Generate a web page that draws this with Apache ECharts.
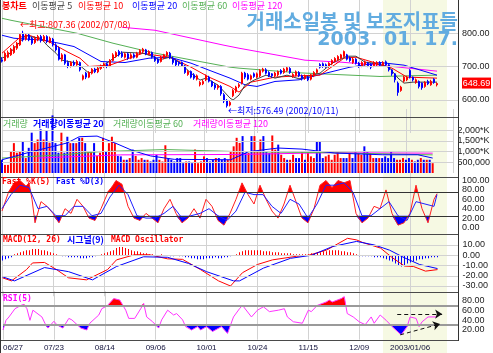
<!DOCTYPE html>
<html>
<head>
<meta charset="utf-8">
<script src="https://cdn.jsdelivr.net/npm/echarts@6/dist/echarts.min.js"></script>
<style>
html,body{margin:0;padding:0;background:#fff}
#main{width:493px;height:353px}
</style>
</head>
<body>
<div id="main"></div>
<script>
// 날짜 눈금 (17봉 간격)
var dateLabels = ['06/27','07/23','08/14','09/06','10/01','10/24','11/15','12/09','2003/01/06'];

// 일봉 [시가, 고가, 저가, 종가]
var ohlc = [
  [720,728,712,716],[718,745,715,740],[728,748,725,742],[735,756,732,752],[742,765,738,760],
  [755,774,750,770],[765,800,762,796],[800,807.36,775,780],[782,798,778,795],[795,798,776,780],
  [785,790,765,770],[772,790,768,785],[780,795,776,790],[790,795,772,778],[778,795,774,790],
  [790,794,770,775],[775,790,770,785],[782,786,760,765],[765,770,745,750],[755,760,718,722],
  [722,740,715,735],[735,738,705,710],[712,718,695,700],[700,716,697,712],[712,718,700,705],
  [705,720,702,715],[712,715,685,690],[662,676,658,672],[680,684,662,668],[668,686,665,682],
  [680,695,676,692],[692,696,680,684],[684,699,680,695],[694,706,690,702],[700,712,696,708],
  [708,712,695,700],[700,722,698,718],[718,740,715,735],[730,746,726,742],[745,750,730,735],
  [740,746,726,730],[728,742,724,738],[738,742,720,725],[725,740,722,735],[735,740,724,728],
  [728,744,725,740],[738,752,735,748],[745,756,740,752],[750,753,734,738],[738,749,734,745],
  [742,745,724,728],[728,732,714,718],[722,725,708,712],[715,732,712,728],[726,738,722,735],
  [735,746,730,742],[740,744,722,725],[725,730,706,712],[718,722,700,705],[712,716,702,708],
  [712,715,700,705],[702,705,678,682],[676,690,672,685],[685,688,664,668],[675,680,660,665],
  [662,676,658,672],[645,656,640,652],[648,660,644,655],[660,676,656,672],[668,672,652,656],
  [655,658,638,642],[645,650,630,636],[636,646,630,642],[640,644,612,618],[615,620,590,596],
  [598,602,576.49,582],[584,596,580,592],[612,632,608,628],[625,642,620,638],[640,650,635,645],
  [650,684,646,680],[680,684,662,668],[675,680,658,662],[662,676,658,672],[678,682,666,670],
  [668,682,664,678],[672,692,668,688],[686,696,682,692],[690,695,676,680],[682,686,668,672],
  [678,680,666,672],[672,684,668,680],[675,688,670,685],[688,692,676,680],[682,696,678,692],
  [688,700,684,696],[694,698,678,682],[670,680,666,676],[674,688,670,684],[682,686,668,672],
  [672,676,658,664],[664,676,660,672],[668,672,656,660],[662,678,658,675],[672,686,668,682],
  [682,694,678,690],[706,710,694,698],[708,712,696,700],[705,709,696,700],[700,713,696,710],
  [708,722,704,718],[715,728,712,724],[720,734,716,730],[725,738,722,735],[730,748,727,745],
  [735,738,718,722],[726,730,714,718],[712,726,708,722],[722,725,706,710],[710,714,696,700],
  [702,716,698,712],[706,718,702,714],[710,714,698,702],[706,710,692,698],[702,716,698,712],
  [705,716,700,712],[712,716,700,704],[704,716,700,712],[714,718,700,705],[705,708,685,690],
  [690,692,672,678],[678,680,652,660],[650,655,612,622],[628,642,624,638],[656,672,652,668],
  [660,672,656,668],[688,692,664,668],[668,670,655,660],[652,664,648,660],[655,658,634,640],
  [650,652,630,636],[640,656,636,652],[655,660,644,648],[645,660,642,655],[662,665,648,652],
  [645,652,640,648.69]
];

// 이동평균 (그림에서 읽은 꼭짓점 [봉번호, 값])
var ma5 = [[0,725],[2,734],[8,794],[9,790],[13,785],[15,764],[18,740],[20,719],[25,710],[29,680],[33,698],[40,743],[47,740],[51,728],[52,719],[56,728],[59,713],[63,680],[66,659],[68,665],[72,644],[76,605],[77,599],[79,614],[81,644],[84,659],[88,674],[91,665],[95,674],[99,663],[106,680],[110,710],[115,731],[118,731],[121,713],[124,710],[129,698],[132,665],[134,650],[137,653],[145,653]];
var ma10 = [[0,740],[6,788],[9,794],[16,773],[22,743],[26,725],[29,700],[36,704],[47,740],[51,734],[56,728],[63,698],[69,668],[76,640],[79,623],[83,653],[91,668],[99,672],[106,674],[114,725],[118,728],[124,712],[130,695],[135,668],[145,665]];
var ma20 = [[0,794],[4,785],[14,779],[19,770],[24,760],[29,735],[33,715],[41,712],[49,725],[56,728],[63,710],[69,689],[76,665],[81,645],[85,640],[91,655],[99,660],[116,698],[126,712],[134,704],[145,674]];
var ma60 = [[0,845],[3,839],[25,800],[37,770],[50,742],[76,698],[79,695],[99,681],[126,670],[145,674]];
var ma120 = [[40,818],[51,809],[74,764],[79,755],[101,719],[113,713],[126,704],[145,686]];

// 거래량 (천주)
var volume = [
  620,380,380,1000,1400,950,1000,1490,700,1180,
  1890,1400,1570,2050,1570,2000,1420,2700,1400,950,
  1890,950,1700,1400,1400,1400,1650,1650,1400,1000,
  1000,1400,800,950,1650,1000,1400,1700,1400,800,
  780,620,620,700,1100,800,620,700,620,620,
  540,620,850,620,540,1300,700,620,540,700,
  700,460,540,540,460,1100,460,540,780,700,
  540,620,700,700,620,700,620,1000,1250,1650,
  1410,1730,935,935,1730,1730,1015,1570,1730,1015,
  935,1760,1095,1330,855,700,620,620,855,700,
  700,1015,620,1015,780,700,1490,1490,700,780,
  855,620,855,1015,700,700,700,935,700,1015,
  935,855,1250,1015,935,700,700,700,700,780,
  700,1015,700,620,620,700,620,700,620,540,
  620,700,620,620,620,460
];
var volMa20 = [[0,620],[10,1000],[22,1410],[26,1700],[32,1730],[38,1410],[44,1050],[50,800],[58,640],[77,620],[83,1000],[93,1170],[101,1120],[112,935],[128,855],[140,855],[145,700]];
var volMa60 = [[0,700],[20,850],[33,1000],[55,1100],[80,1000],[110,950],[145,850]];
var volMa120 = [[12,700],[40,850],[80,870],[110,950],[145,930]];

// Fast %K(5), Fast %D(3)
var fastK = [[0,35],[2,72],[4,95],[6,100],[8,88],[9,95],[10,60],[11,10],[13,55],[15,45],[17,30],[19,10],[21,40],[23,30],[25,60],[27,45],[29,20],[31,15],[33,40],[35,70],[37,90],[38,100],[40,92],[42,45],[44,20],[46,15],[48,30],[50,20],[52,10],[54,40],[56,60],[58,30],[60,10],[62,20],[64,40],[66,20],[68,60],[70,45],[72,15],[74,5],[76,30],[78,60],[80,95],[82,70],[84,50],[86,90],[88,60],[90,35],[92,20],[94,50],[96,90],[98,55],[100,20],[102,10],[104,40],[106,90],[108,100],[110,85],[112,100],[114,95],[116,100],[118,30],[120,10],[122,20],[124,45],[126,40],[128,80],[130,30],[132,5],[134,10],[136,30],[138,90],[140,40],[142,10],[144,60],[145,72]];
var fastD = [[0,40],[3,70],[6,90],[9,85],[12,40],[15,45],[18,25],[21,25],[24,45],[27,45],[30,25],[33,30],[36,65],[39,90],[42,70],[45,25],[48,20],[51,20],[54,30],[57,45],[60,20],[63,25],[66,30],[69,40],[72,25],[75,15],[78,35],[81,75],[84,70],[87,70],[90,45],[93,30],[96,60],[99,50],[102,20],[105,50],[108,90],[111,90],[114,95],[117,75],[120,25],[123,25],[126,40],[129,55],[132,25],[135,15],[138,55],[141,50],[144,45],[145,70]];

// MACD(12,26), 시그널(9), Oscillator
var macd = [[0,-22],[3,-25],[8,-14],[10,-7.5],[14,-7],[18,-14],[22,-22],[28,-24],[35,-14],[38,-4.5],[44,0.5],[49,0.5],[55,-3.5],[60,-4],[66,-14],[72,-25],[76,-30],[80,-17],[85,-9],[90,-4.5],[98,-1],[102,0],[108,5],[115,16.5],[118,15],[120,12.5],[126,7],[130,-2.5],[134,-10.5],[137,-11],[141,-15.5],[145,-14]];
var signal = [[0,-21],[4,-25],[14,-12],[22,-16],[30,-24],[38,-11],[47,-1.5],[55,-2],[62,-8],[68,-16],[77,-25],[79,-25],[87,-12.5],[96,-3],[103,0],[110,8.5],[118,13.5],[124,10],[129,5],[134,-2.5],[139,-9],[145,-13]];
var osc = [
  -5,-4,-3,-2,
  1,2,3,4,5,5,6,6,6,5,5,4,
  3,2,1,0,-1,-1,-2,-2,-2,-2,-3,-3,-3,-2,-2,-1,
  0,1,2,3,4,5,7,8,8,7,6,5,4,4,3,2,2,1,1,
  0,0,1,0,0,-1,-1,0,-1,-1,-2,
  -2,-3,-3,-4,-4,-4,-3,-3,-3,-2,-3,-3,-2,-2,-1,0,1,
  3,4,5,5,5,5,5,5,4,4,4,3,3,3,2,2,2,2,1,1,1,1,1,1,2,2,3,3,4,4,5,5,5,5,4,4,3,3,2,1,
  -1,-1,-1,-1,-1,-2,-2,-2,-3,-4,-5,-6,-8,-10,-11,-10,-8,-7,-6,-5,-4,-4,-3,-3,-2,-2,-2
];

// RSI(5)
var rsi = [[0,20],[1,40],[2,47],[4,64],[6,71],[7,73],[8,64],[9,40],[10,61],[13,47],[14,34],[15,24],[17,38],[18,31],[20,24],[22,44],[23,41],[26,24],[28,20],[29,34],[32,51],[33,64],[35,71],[37,85],[39,82],[41,61],[42,44],[44,44],[46,64],[47,75],[48,47],[50,37],[52,24],[53,41],[55,61],[57,51],[58,54],[60,41],[61,27],[63,20],[65,27],[66,20],[68,27],[70,17],[73,27],[75,13],[77,47],[79,64],[80,71],[83,47],[85,61],[87,68],[89,58],[92,61],[94,64],[95,47],[97,37],[100,34],[102,61],[103,58],[105,71],[108,78],[109,82],[110,78],[113,85],[114,89],[115,54],[117,47],[119,37],[121,31],[123,47],[124,34],[126,51],[128,40],[130,27],[133,10],[135,27],[136,47],[138,44],[139,27],[140,37],[142,47],[145,47]];

var RED = '#FF0000', BLUE = '#0000FF', GREEN = '#55B055', PINK = '#FF00FF', GRAY5 = '#404040';
var FK = '"Noto Sans CJK KR"', FL = '"Liberation Sans"', FM = '"DejaVu Sans Mono"';
var NBAR = 152;

// 임계선 위/아래만 남겨서 채우기용 점 목록 생성
function clipTo(pts, lvl, above) {
  var out = [];
  for (var k = 0; k < pts.length; k++) {
    var p = pts[k];
    if (k > 0) {
      var q = pts[k - 1];
      if ((q[1] - lvl) * (p[1] - lvl) < 0) {
        var t = (lvl - q[1]) / (p[1] - q[1]);
        out.push([q[0] + t * (p[0] - q[0]), lvl]);
      }
    }
    out.push([p[0], above ? Math.max(p[1], lvl) : Math.min(p[1], lvl)]);
  }
  return out;
}

function xAx(g, showLabel) {
  return {
    type: 'value', gridIndex: g, min: 0, max: NBAR, interval: 17,
    axisLine: {show: false}, axisTick: {show: false},
    splitLine: {show: true, lineStyle: {color: '#D2D2D2', width: 1}},
    axisLabel: showLabel ? {
      show: true, fontSize: 8, color: '#10103a', fontFamily: FL, margin: 4,
      alignMinLabel: 'left', showMaxLabel: false,
      formatter: function (v) { return v % 17 === 0 ? (dateLabels[v / 17] || '') : ''; }
    } : {show: false}
  };
}

function yAx(g, min, max, interval, fmt) {
  return {
    type: 'value', gridIndex: g, position: 'right', min: min, max: max, interval: interval,
    axisLine: {show: false}, axisTick: {show: false}, splitLine: {show: false},
    axisLabel: {show: true, fontSize: 9, color: '#222', fontFamily: FL, margin: 4, formatter: fmt}
  };
}

function gridLines(vals, color, width) {
  return {
    silent: true, symbol: 'none', label: {show: false}, animation: false,
    lineStyle: {color: color, width: width || 1, type: 'solid'},
    data: vals.map(function (v) { return {yAxis: v}; })
  };
}

function lineS(g, data, color, z) {
  return {type: 'line', xAxisIndex: g, yAxisIndex: g, data: data, symbol: 'none',
    lineStyle: {color: color, width: 1}, z: z || 3, silent: true};
}

function fillS(g, data, lvl, above, color) {
  return {type: 'line', xAxisIndex: g, yAxisIndex: g, data: clipTo(data, lvl, above), symbol: 'none',
    lineStyle: {width: 0}, areaStyle: {color: color, opacity: 1, origin: lvl}, z: 2, silent: true};
}

var candleData = ohlc.map(function (r, i) { return [i, r[0], r[3], r[2], r[1]]; });
var volData = volume.map(function (v, i) {
  var up = ohlc[i][3] >= ohlc[i][0];
  return {value: [i, v], itemStyle: {color: up ? RED : BLUE}};
});
var oscData = osc.map(function (v, i) {
  return {value: [i, v], itemStyle: {color: v >= 0 ? RED : BLUE}};
});

var chart = echarts.init(document.getElementById('main'));

chart.setOption({
  animation: false,
  backgroundColor: '#FFFFFF',
  grid: [
    {left: 2, width: 456, top: 0, height: 133},
    {left: 2, width: 456, top: 109, height: 64},
    {left: 2, width: 456, top: 171.1, height: 65.8},
    {left: 2.5, width: 456, top: 224.5, height: 71.75},
    {left: 2, width: 456, top: 291.33, height: 48.33}
  ],
  xAxis: [xAx(0, false), xAx(1, false), xAx(2, false), xAx(3, false), xAx(4, true)],
  yAxis: [
    yAx(0, 500, 900, 100, function (v) { return v >= 600 && v <= 800 ? v.toFixed(2) : ''; }),
    yAx(1, 0, 3000, 500, function (v) {
      if (v === 500) return '500,000';
      return v >= 1000 && v <= 2000 ? (v / 1000).toFixed(3).replace('.', ',') + '*K' : '';
    }),
    yAx(2, -20, 120, 20, function (v) { return v >= 0 && v <= 100 ? v.toFixed(2) : ''; }),
    yAx(3, -40, 30, 10, function (v) { return v >= -30 && v <= 10 ? v.toFixed(2) : ''; }),
    yAx(4, 0, 100, 20, function (v) { return v >= 20 && v <= 80 ? v.toFixed(2) : ''; })
  ],
  series: [
    {
      type: 'candlestick', xAxisIndex: 0, yAxisIndex: 0, data: candleData,
      encode: {x: 0, y: [1, 2, 3, 4]}, barWidth: 2, clip: false, silent: true, z: 4,
      itemStyle: {color: RED, color0: BLUE, borderColor: RED, borderColor0: BLUE, borderWidth: 1},
      markLine: gridLines([600, 700, 800], '#D2D2D2')
    },
    lineS(0, ma120, PINK), lineS(0, ma60, GREEN), lineS(0, ma20, BLUE),
    lineS(0, ma10, RED), lineS(0, ma5, GRAY5),

    {
      type: 'bar', xAxisIndex: 1, yAxisIndex: 1, data: volData, barWidth: 2, clip: false, silent: true,
      markLine: gridLines([500, 1000, 1500, 2000], '#D2D2D2')
    },
    lineS(1, volMa120, PINK), lineS(1, volMa60, GREEN), lineS(1, volMa20, BLUE),

    fillS(2, fastK, 75, true, RED), fillS(2, fastK, 25, false, BLUE),
    (function () { var s = lineS(2, fastK, '#FF2020', 4); s.markLine = gridLines([75, 25], '#333333'); return s; })(),
    lineS(2, fastD, '#2020FF', 4),

    {
      type: 'bar', xAxisIndex: 3, yAxisIndex: 3, data: oscData, barWidth: 1, silent: true,
      markLine: gridLines([10, 0, -10, -20, -30], '#D2D2D2')
    },
    lineS(3, macd, RED, 4), lineS(3, signal, BLUE, 4),

    fillS(4, rsi, 70, true, RED), fillS(4, rsi, 30, false, BLUE),
    (function () {
      var s = lineS(4, rsi, '#FF33FF', 4);
      s.markLine = gridLines([70, 30], '#9A9A9A', 2);
      return s;
    })(),
    {
      type: 'line', xAxisIndex: 4, yAxisIndex: 4, data: [], silent: true,
      markLine: {
        silent: true, symbol: ['none', 'arrow'], symbolSize: 7, label: {show: false},
        lineStyle: {color: '#111', width: 1, type: [4, 3]},
        data: [
          [{coord: [131.7, 53]}, {coord: [146.7, 53]}],
          [{coord: [132.7, 10]}, {coord: [146, 32.5]}]
        ]
      }
    }
  ]
});

var tagY = chart.convertToPixel({gridIndex: 0}, [145, ohlc[ohlc.length - 1][3]])[1];

function txt(x, y, s, color, font, align) {
  return {type: 'text', x: x, y: y, z: 60, silent: true,
    style: {text: s, fill: color, font: font, verticalAlign: 'middle', align: align || 'left'}};
}
function hline(y) {
  return {type: 'line', z: 50, silent: true, shape: {x1: 0, y1: y, x2: 459, y2: y}, style: {stroke: '#4a4a4a', lineWidth: 1}};
}

var lg = '9px ' + FK;
var mono = 'bold 8px ' + FM;
var TITLE = '#62ACE0';
chart.setOption({
  graphic: [
    {type: 'rect', z: -5, silent: true, shape: {x: 383, y: 0, width: 64, height: 353}, style: {fill: '#F6F9E3'}},
    hline(117.5), hline(177.5), hline(234.5), hline(292.5), hline(340.5),
    {type: 'line', z: 50, silent: true, shape: {x1: 458.5, y1: 0, x2: 458.5, y2: 341}, style: {stroke: '#333', lineWidth: 1}},
    {type: 'line', z: 50, silent: true, shape: {x1: 0.5, y1: 0, x2: 0.5, y2: 353}, style: {stroke: '#333', lineWidth: 1}},

    txt(2, 6, '봉차트', RED, 'bold ' + lg),
    txt(32, 6, '이동평균 5', GRAY5, lg),
    txt(78, 6, '이동평균 10', RED, lg),
    txt(132, 6, '이동평균 20', BLUE, lg),
    txt(182, 6, '이동평균 60', GREEN, lg),
    txt(232, 6, '이동평균 120', PINK, lg),

    txt(458, 21, '거래소일봉 및 보조지표들', TITLE, 'bold 20px ' + FK, 'right'),
    txt(458, 40, '2003. 01. 17.', TITLE, 'bold 19px "DejaVu Sans"', 'right'),

    txt(20, 25, '←최고:807.36 (2002/07/08)', RED, lg),
    txt(228, 110.5, '←최저:576.49 (2002/10/11)', BLUE, lg),

    txt(3, 124, '거래량', GREEN, lg),
    txt(33, 124, '거래량이동평균 20', BLUE, 'bold ' + lg),
    txt(113, 124, '거래량이동평균 60', GREEN, lg),
    txt(193, 124, '거래량이동평균 120', PINK, lg),

    txt(2, 182, 'Fast %K(5)', RED, mono),
    txt(56, 182, 'Fast %D(3)', BLUE, mono),

    txt(3, 240, 'MACD(12, 26)', RED, mono),
    txt(67, 240, '시그널(9)', BLUE, 'bold ' + lg),
    txt(111, 240, 'MACD Oscillator', RED, mono),

    txt(3, 299, 'RSI(5)', PINK, mono),

    {type: 'rect', z: 60, silent: true, shape: {x: 462, y: tagY - 6, width: 29, height: 11}, style: {fill: RED}},
    txt(476.5, tagY, ohlc[ohlc.length - 1][3].toFixed(2), '#FFFFFF', '9px ' + FL, 'center')
  ]
});
</script>
</body>
</html>
